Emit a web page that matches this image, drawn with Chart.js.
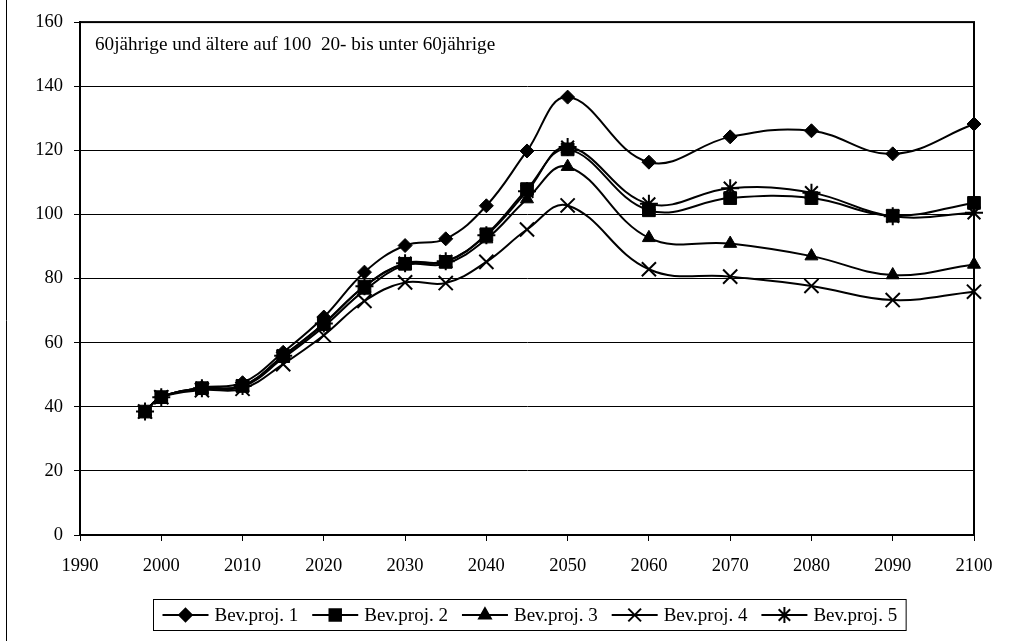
<!DOCTYPE html>
<html>
<head>
<meta charset="utf-8">
<script src="https://cdn.jsdelivr.net/npm/chart.js@4/dist/chart.umd.min.js"></script>
<style>
  html, body { margin: 0; padding: 0; background: #fff; }
  #wrap { width: 1013px; height: 641px; }
</style>
</head>
<body>
<div id="wrap"><canvas id="grafik"></canvas></div>
<script>
// Altenquotient: 60jährige und ältere auf 100 20- bis unter 60jährige
const jahre = [1998, 2000, 2005, 2010, 2015, 2020, 2025, 2030, 2035, 2040, 2045, 2050, 2060, 2070, 2080, 2090, 2100];

const bev1 = [38.5, 43, 46, 47.5, 57, 68, 82, 90.3, 92.4, 102.7, 119.8, 136.6, 116.3, 124.2, 126.1, 118.9, 128.2];
const bev2 = [38.5, 43, 45.8, 46.5, 55.8, 65.8, 77.5, 84.6, 85.2, 93.8, 107.9, 120.3, 101.3, 105.1, 105.1, 99.6, 103.6];
const bev3 = [38.5, 43, 45.6, 46.2, 55.2, 65, 76.3, 84.2, 84.6, 92.3, 104.8, 114.9, 92.7, 90.9, 87, 81.1, 84.4];
const bev4 = [38.5, 43, 45.2, 45.6, 53.3, 62.3, 73, 78.8, 78.6, 85.2, 95.3, 102.8, 82.9, 80.6, 77.7, 73.3, 75.9];
const bev5 = [38.5, 43, 45.8, 46.5, 55.9, 66, 77.6, 84.8, 85.4, 93.5, 107.2, 121, 103.3, 108.2, 106.8, 99.4, 100.5];

const serienNamen = ["Bev.proj. 1", "Bev.proj. 2", "Bev.proj. 3", "Bev.proj. 4", "Bev.proj. 5"];
const untertitel = "60jährige und ältere auf 100  20- bis unter 60jährige";

const SCHRIFT = '"Liberation Serif", "Times New Roman", serif';

const marker = [
  { stil: "rectRot", r: 7 },
  { stil: "rect", r: 9 },
  { stil: "triangle", r: 7.5 },
  { stil: "crossRot", r: 10 },
  { stil: "star", r: 9 }
];

function punkte(werte) {
  return werte.map((v, i) => ({ x: jahre[i], y: v }));
}

const datasets = [bev1, bev2, bev3, bev4, bev5].map((werte, i) => ({
  label: serienNamen[i],
  data: punkte(werte),
  borderColor: "#000",
  backgroundColor: "#000",
  borderWidth: 2,
  tension: 0.4,
  pointStyle: marker[i].stil,
  pointRadius: marker[i].r,
  pointBorderWidth: i >= 3 ? 2 : 1,
  pointBackgroundColor: "#000",
  pointBorderColor: "#000",
  clip: false
}));

// Rahmen um Zeichenfläche, linke Randlinie, Untertitel
const rahmen = {
  id: "rahmen",
  afterDraw(chart) {
    const { ctx, chartArea: a } = chart;
    ctx.save();
    ctx.strokeStyle = "#000";
    ctx.lineWidth = 2;
    ctx.strokeRect(a.left, a.top, a.right - a.left, a.bottom - a.top);
    ctx.lineWidth = 1;
    ctx.beginPath();
    ctx.moveTo(6.5, 0);
    ctx.lineTo(6.5, chart.height);
    ctx.stroke();
    ctx.fillStyle = "#000";
    ctx.font = "19.2px " + SCHRIFT;
    ctx.textBaseline = "middle";
    ctx.fillText(untertitel, 95, 45);
    ctx.restore();
  }
};

// Excel-artige Legende mit Linie + Marker im Kasten
const legende = {
  id: "legende",
  afterDraw(chart) {
    const ctx = chart.ctx;
    ctx.save();
    ctx.font = "19px " + SCHRIFT;
    const linie = 46, abstandText = 6, abstand = 14, innen = 9;
    const breiten = chart.data.datasets.map(ds => linie + abstandText + ctx.measureText(ds.label).width);
    const gesamt = breiten.reduce((a, b) => a + b, 0) + abstand * (breiten.length - 1) + innen * 2;
    const mitte = 529.5;
    const x0 = Math.round(mitte - gesamt / 2) + 0.5;
    const y0 = 599.5, hoehe = 31;
    ctx.strokeStyle = "#000";
    ctx.lineWidth = 1;
    ctx.strokeRect(x0, y0, gesamt, hoehe);

    let x = x0 + innen;
    const ym = y0 + hoehe / 2;
    chart.data.datasets.forEach((ds, i) => {
      ctx.strokeStyle = "#000";
      ctx.lineWidth = 2;
      ctx.beginPath();
      ctx.moveTo(x, ym);
      ctx.lineTo(x + linie, ym);
      ctx.stroke();
      ctx.fillStyle = "#000";
      Chart.helpers.drawPoint(ctx, {
        pointStyle: marker[i].stil,
        radius: marker[i].r * 0.9,
        rotation: 0,
        borderWidth: i >= 3 ? 2 : 1
      }, x + linie / 2, ym);
      ctx.fillStyle = "#000";
      ctx.textBaseline = "middle";
      ctx.fillText(ds.label, x + linie + abstandText, ym + 1);
      x += breiten[i] + abstand;
    });
    ctx.restore();
  }
};

new Chart(document.getElementById("grafik"), {
  type: "line",
  data: { datasets },
  options: {
    responsive: true,
    maintainAspectRatio: false,
    animation: false,
    layout: { padding: { top: 18, right: 39, bottom: 66, left: 0 } },
    plugins: {
      legend: { display: false },
      tooltip: { enabled: false }
    },
    scales: {
      x: {
        type: "linear",
        min: 1990,
        max: 2100,
        ticks: { stepSize: 10, color: "#000", font: { family: SCHRIFT, size: 18.5 }, padding: 14, maxRotation: 0, callback: v => String(v) },
        grid: { drawOnChartArea: false, drawTicks: true, tickLength: 6, color: "#000" },
        border: { color: "#000", width: 2 },
        afterFit(scale) { scale.height = 40; }
      },
      y: {
        min: 0,
        max: 160,
        ticks: { stepSize: 20, color: "#000", font: { family: SCHRIFT, size: 18.5 }, padding: 11 },
        grid: { color: "#000", lineWidth: 1, tickLength: 6 },
        border: { color: "#000", width: 2 },
        afterFit(scale) { scale.width = 80; }
      }
    }
  },
  plugins: [rahmen, legende]
});
</script>
</body>
</html>
